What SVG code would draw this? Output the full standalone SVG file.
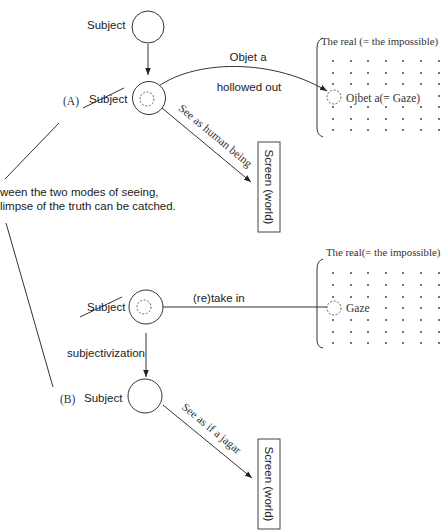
<svg xmlns="http://www.w3.org/2000/svg" width="445" height="532" viewBox="0 0 445 532">
  <style>
    .sans { font-family: "Liberation Sans", Arial, sans-serif; font-size: 11.5px; fill: #222; }
    .serif { font-family: "Liberation Serif", "Times New Roman", serif; font-size: 11.5px; fill: #333; }
    .title { font-size: 10.8px; }
    .ln { stroke: #333; stroke-width: 1; fill: none; }
    .ring { stroke: #333; stroke-width: 1; fill: #fff; }
    .hole { stroke: #555; stroke-width: 0.9; fill: none; stroke-dasharray: 2 1.6; }
    .box { stroke: #444; stroke-width: 1; fill: #fff; }
    .dot { fill: #444; }
  </style>
  <defs>
    <marker id="arrow" viewBox="0 0 10 10" refX="10" refY="5" markerWidth="7" markerHeight="7" markerUnits="userSpaceOnUse" orient="auto">
      <path d="M0,1 L10,5 L0,9 Z" fill="#222"/>
    </marker>
    <!-- one row of the dotted field -->
    <g id="dotrow">
      <circle class="dot" cx="333" cy="0" r="1"/>
      <circle class="dot" cx="351" cy="0" r="1"/>
      <circle class="dot" cx="368" cy="0" r="1"/>
      <circle class="dot" cx="386" cy="0" r="1"/>
      <circle class="dot" cx="403" cy="0" r="1"/>
      <circle class="dot" cx="421" cy="0" r="1"/>
      <circle class="dot" cx="439" cy="0" r="1"/>
    </g>
  </defs>

  <rect width="445" height="532" fill="#fff"/>

  <!-- connectors -->
  <g id="connectors">
    <line class="ln" x1="148" y1="44" x2="148" y2="75" marker-end="url(#arrow)"/>
    <path class="ln" d="M150,93 C185,60 268,56 327,91" marker-end="url(#arrow)"/>
    <line class="ln" x1="162" y1="108" x2="251" y2="182" marker-end="url(#arrow)"/>
    <line class="ln" x1="327" y1="307" x2="153" y2="307" marker-end="url(#arrow)"/>
    <line class="ln" x1="146" y1="333" x2="146" y2="377" marker-end="url(#arrow)"/>
    <line class="ln" x1="163" y1="405" x2="252" y2="478" marker-end="url(#arrow)"/>
    <line class="ln" x1="59" y1="123" x2="5" y2="179"/>
    <line class="ln" x1="6" y1="223" x2="53" y2="387"/>
    <text class="sans" x="248" y="61" text-anchor="middle">Objet a</text>
    <text class="sans" x="249" y="91" text-anchor="middle">hollowed out</text>
    <text class="serif" transform="translate(162,108) rotate(39.7)" x="13" y="-9">See as human being</text>
    <text class="sans" x="193" y="302">(re)take in</text>
    <text class="sans" x="67" y="357">subjectivization</text>
    <text class="serif" transform="translate(163,405) rotate(39.4)" x="16" y="-9">See as if  a  jagar</text>
  </g>

  <!-- remark between the two modes -->
  <g id="remark">
    <text class="sans" x="0" y="196">ween the two modes of seeing,</text>
    <text class="sans" x="0" y="210">limpse of the truth can be catched.</text>
  </g>

  <!-- top subject -->
  <g id="subject-top">
    <circle class="ring" cx="148" cy="27" r="16"/>
    <text class="sans" x="87" y="29">Subject</text>
  </g>

  <!-- (A) subject with hollow -->
  <g id="subject-a">
    <circle class="ring" cx="149" cy="98" r="16.5"/>
    <circle class="hole" cx="147" cy="99" r="7"/>
    <text class="sans" x="89" y="103">Subject</text>
    <line class="ln" x1="83" y1="108" x2="124" y2="88"/>
    <text class="serif" x="63" y="105">(A)</text>
  </g>

  <!-- screen (world), upper -->
  <g id="screen-a">
    <rect class="box" x="258" y="142" width="22" height="90"/>
    <text class="sans" transform="translate(269,187) rotate(90)" x="0" y="4" text-anchor="middle">Screen (world)</text>
  </g>

  <!-- the real, upper -->
  <g id="real-a">
    <text class="serif title" x="321" y="45">The real (= the impossible)</text>
    <path class="ln" d="M323,38 Q317,40 317,48 L317,128 Q317,135 323,137"/>
    <use href="#dotrow" y="61"/>
    <use href="#dotrow" y="73"/>
    <use href="#dotrow" y="84"/>
    <circle class="dot" cx="439" cy="96" r="1"/>
    <use href="#dotrow" y="107"/>
    <use href="#dotrow" y="119"/>
    <use href="#dotrow" y="130"/>
    <rect x="343" y="88" width="80" height="15" fill="#fff"/>
    <circle class="hole" cx="334" cy="97" r="7" fill="#fff"/>
    <text class="serif" x="346" y="102">Ojbet a(= Gaze)</text>
  </g>

  <!-- the real, lower -->
  <g id="real-b">
    <text class="serif title" x="326" y="256">The real(= the impossible)</text>
    <path class="ln" d="M323,259 Q317,261 317,269 L317,340 Q317,347 323,348"/>
    <use href="#dotrow" y="273"/>
    <use href="#dotrow" y="285"/>
    <use href="#dotrow" y="297"/>
    <circle class="dot" cx="386" cy="308" r="1"/>
    <circle class="dot" cx="403" cy="308" r="1"/>
    <circle class="dot" cx="421" cy="308" r="1"/>
    <circle class="dot" cx="439" cy="308" r="1"/>
    <use href="#dotrow" y="320"/>
    <use href="#dotrow" y="332"/>
    <use href="#dotrow" y="343"/>
    <circle class="hole" cx="334" cy="308" r="7" fill="#fff"/>
    <text class="serif" x="346" y="312">Gaze</text>
  </g>

  <!-- struck subject taking in the gaze -->
  <g id="subject-b1">
    <circle class="ring" cx="146" cy="307" r="17"/>
    <circle class="hole" cx="144" cy="307" r="7"/>
    <text class="sans" x="87" y="311">Subject</text>
    <line class="ln" x1="80" y1="317" x2="122" y2="297"/>
  </g>

  <!-- (B) subject -->
  <g id="subject-b">
    <circle class="ring" cx="145" cy="396" r="17"/>
    <text class="sans" x="84" y="402">Subject</text>
    <text class="serif" x="60" y="403">(B)</text>
  </g>

  <!-- screen (world), lower -->
  <g id="screen-b">
    <rect class="box" x="258" y="439" width="22" height="90"/>
    <text class="sans" transform="translate(269,484) rotate(90)" x="0" y="4" text-anchor="middle">Screen (world)</text>
  </g>
</svg>
